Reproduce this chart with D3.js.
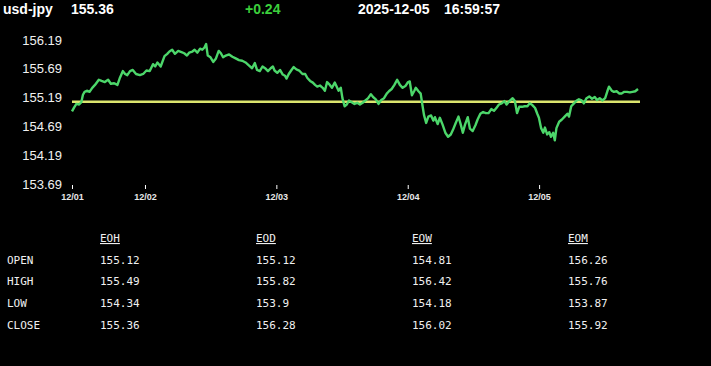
<!DOCTYPE html>
<html><head><meta charset="utf-8">
<script src="https://cdn.jsdelivr.net/npm/d3@7"></script>
<style>
html,body{margin:0;padding:0;background:#000;}
svg{display:block;}
</style></head>
<body>
<script>
// ---- data ----
const symbol = "usd-jpy";
const lastPrice = "155.36";
const change = "+0.24";
const dateText = "2025-12-05";
const timeText = "16:59:57";
const refValue = 155.12;

const hours = [0,0.4,0.8,1.3,1.7,2.0,2.3,2.8,3.2,3.7,4.2,4.9,5.4,6.0,6.6,7.1,7.7,8.3,8.7,9.3,9.7,10.1,10.6,11.1,11.7,12.4,13.0,13.6,14.2,14.8,15.2,15.6,16.2,16.9,17.4,17.8,18.3,18.8,19.4,20.0,
20.5,21.0,21.4,22.0,22.4,22.9,23.4,23.8,24.2,24.5,24.8,25.3,25.8,26.3,26.8,27.2,27.6,28.1,28.7,29.3,29.9,30.5,31.1,31.7,32.3,32.9,33.4,33.8,34.3,34.8,35.4,35.8,36.3,36.7,37.0,37.5,38.0,38.5,38.9,39.2,39.6,40.1,40.5,41.0,41.5,42.1,
42.6,43.0,43.5,44.0,44.4,44.8,45.3,45.8,46.2,46.6,47.1,47.5,48.0,48.3,48.7,49.1,49.4,49.8,50.2,50.6,51.1,51.6,52.1,52.6,53.1,53.6,54.1,54.6,55.0,55.5,56.0,56.5,57.0,57.5,57.9,58.4,58.9,59.4,59.9,60.4,60.9,61.4,61.7,62.1,62.5,62.8,
63.3,63.7,64.0,64.3,64.7,65.1,65.6,66.0,66.3,66.8,67.2,67.7,68.2,68.7,69.2,69.6,70.1,70.6,71.0,71.4,71.8,72.3,72.7,73.2,73.7,74.1,74.6,75.1,75.6,76.1,76.6,77.1,77.6,78.0,78.5,79.0,79.4,79.9,80.5,80.9,81.3,81.7,82.2,82.7,83.2,83.6,84.1,84.6,
85.0,85.3,85.7,86.1,86.4,86.8,87.2,87.5,87.9,88.2,88.5,89.0,89.5,90.0,90.5,90.8,91.2,91.7,92.2,92.6,93.1,93.5,94.0,94.5,95.0,95.5,95.9,96.4,96.9,97.4,97.8,98.1,98.6,99.0,99.5,100.0,100.4,100.9,101.4,101.9,102.4,102.9,103.4];

const prices = [154.95,155.02,155.08,155.07,155.11,155.24,155.29,155.31,155.29,155.36,155.41,155.50,155.48,155.46,155.50,155.43,155.44,155.41,155.52,155.65,155.60,155.58,155.65,155.67,155.60,155.58,155.60,155.66,155.65,155.77,155.73,155.80,155.73,155.91,155.95,155.99,156.02,155.95,156.00,155.98,
155.96,155.92,155.97,155.99,156.02,155.97,156.04,156.02,156.06,156.12,155.92,155.89,155.81,155.87,156.00,155.96,155.89,155.92,155.94,155.90,155.87,155.84,155.83,155.80,155.75,155.70,155.79,155.67,155.65,155.73,155.69,155.65,155.70,155.73,155.66,155.62,155.67,155.59,155.57,155.52,155.60,155.67,155.72,155.68,155.66,155.60,
155.60,155.53,155.48,155.45,155.41,155.38,155.40,155.36,155.31,155.46,155.41,155.36,155.45,155.39,155.31,155.36,155.18,155.04,155.07,155.14,155.11,155.08,155.10,155.07,155.10,155.14,155.18,155.25,155.20,155.16,155.08,155.15,155.18,155.26,155.30,155.34,155.41,155.50,155.41,155.36,155.39,155.46,155.47,155.23,155.30,155.36,
155.30,155.26,155.07,154.89,154.75,154.86,154.88,154.79,154.85,154.73,154.84,154.72,154.58,154.51,154.55,154.63,154.75,154.86,154.73,154.58,154.72,154.85,154.65,154.61,154.71,154.81,154.91,154.94,154.92,154.92,154.99,154.96,155.02,155.07,155.09,155.13,155.07,155.13,155.18,155.13,154.92,155.03,155.03,155.04,155.04,155.09,155.06,155.01,
154.91,154.84,154.66,154.58,154.67,154.55,154.59,154.51,154.58,154.45,154.66,154.77,154.81,154.86,154.91,154.86,155.04,155.09,155.14,155.16,155.14,155.09,155.18,155.21,155.17,155.20,155.15,155.18,155.14,155.18,155.30,155.38,155.31,155.29,155.30,155.26,155.26,155.29,155.29,155.28,155.29,155.30,155.34];

const startTime = new Date(2025, 11, 1, 10, 40);
const xTickTimes = [new Date(2025,11,1,10,40), new Date(2025,11,2), new Date(2025,11,3), new Date(2025,11,4), new Date(2025,11,5)];
const xTickLabels = ["12/01","12/02","12/03","12/04","12/05"];
const yTicks = [156.19,155.69,155.19,154.69,154.19,153.69];
const yDomain = [153.69,156.19];

const rowLabels = ["OPEN","HIGH","LOW","CLOSE"];
const colLabels = ["EOH","EOD","EOW","EOM"];
const eoh = [155.12,155.49,154.34,155.36];
const eod = [155.12,155.82,153.9,156.28];
const eow = [154.81,156.42,154.18,156.02];
const eom = [156.26,155.76,153.87,155.92];

// ---- drawing ----
const W = 711, H = 366;
const svg = d3.select("body").append("svg").attr("width", W).attr("height", H);
svg.append("rect").attr("width", W).attr("height", H).attr("fill", "#000");

const data = hours.map((h, i) => ({t: new Date(startTime.getTime() + h * 3600000), v: prices[i]}));

const x = d3.scaleTime().domain([data[0].t, data[data.length-1].t]).range([72, 638]);
const y = d3.scaleLinear().domain(yDomain).range([184, 40]);

// header
const hdr = svg.append("g").attr("font-family", "Arial, 'Liberation Sans', sans-serif")
  .attr("font-weight", "bold").attr("font-size", 14);
hdr.append("text").attr("x", 3).attr("y", 14).attr("fill", "#fff").text(symbol);
hdr.append("text").attr("x", 71).attr("y", 14).attr("fill", "#fff").text(lastPrice);
hdr.append("text").attr("x", 245).attr("y", 14).attr("fill", "#3ccf3c").text(change);
hdr.append("text").attr("x", 358).attr("y", 14).attr("fill", "#fff").text(dateText);
hdr.append("text").attr("x", 444).attr("y", 14).attr("fill", "#fff").text(timeText);

// y axis
const yAxis = svg.append("g").attr("transform", "translate(62,0)")
  .call(d3.axisLeft(y).tickValues(yTicks).tickSize(0).tickPadding(0).tickFormat(d3.format(".2f")));
yAxis.select(".domain").remove();
yAxis.selectAll("text").attr("fill", "#f0f0f0").attr("font-size", 13)
  .attr("font-family", "Arial, 'Liberation Sans', sans-serif");

// x axis
const xAxis = svg.append("g").attr("transform", "translate(0,185)")
  .call(d3.axisBottom(x).tickValues(xTickTimes).tickSize(4).tickPadding(5)
    .tickFormat((d, i) => xTickLabels[i]));
xAxis.select(".domain").remove();
xAxis.selectAll("line").attr("stroke", "#fff");
xAxis.selectAll("text").attr("fill", "#e8e8e8").attr("font-size", 9).attr("font-weight", "bold")
  .attr("font-family", "Arial, 'Liberation Sans', sans-serif");

// reference line
svg.append("line")
  .attr("x1", x(data[0].t)).attr("x2", x(data[data.length-1].t) + 2)
  .attr("y1", y(refValue)).attr("y2", y(refValue))
  .attr("stroke", "#dbe56e").attr("stroke-width", 2.5);

// price line
svg.append("path").datum(data)
  .attr("fill", "none").attr("stroke", "#4cd66a").attr("stroke-width", 2.4)
  .attr("stroke-linejoin", "round")
  .attr("d", d3.line().x(d => x(d.t)).y(d => y(d.v)));

// table
const cols = [eoh, eod, eow, eom];
const cx = d3.scalePoint().domain(colLabels).range([100, 568]);
const ry = d3.scalePoint().domain(rowLabels).range([263.5, 328.5]);
const tbl = svg.append("g").attr("font-family", "'DejaVu Sans Mono', 'Liberation Mono', monospace")
  .attr("font-size", 11).attr("fill", "#f0f0f0");
colLabels.forEach((c, j) => {
  tbl.append("text").attr("x", cx(c)).attr("y", 242).attr("text-decoration", "underline").text(c);
  cols[j].forEach((v, i) => {
    tbl.append("text").attr("x", cx(c)).attr("y", ry(rowLabels[i])).text(String(v));
  });
});
rowLabels.forEach(r => {
  tbl.append("text").attr("x", 7).attr("y", ry(r)).text(r);
});
</script>
</body></html>
